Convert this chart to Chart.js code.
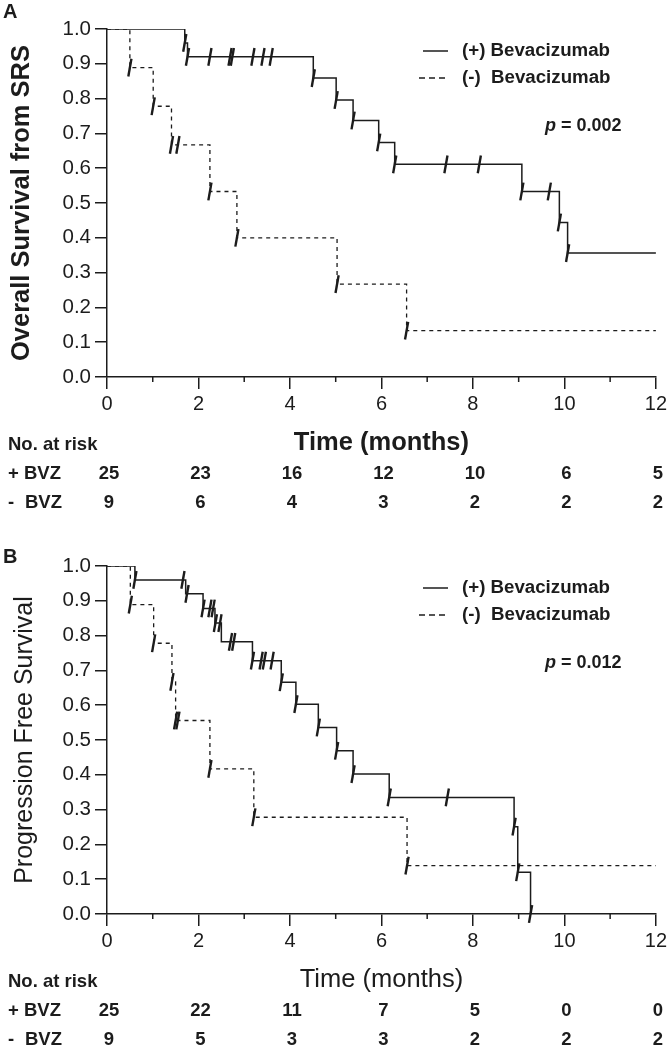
<!DOCTYPE html>
<html>
<head>
<meta charset="utf-8">
<title>Kaplan-Meier: Bevacizumab</title>
<script src="https://cdn.jsdelivr.net/npm/chart.js@4.4.0/dist/chart.umd.min.js"></script>
<style>
  html, body { margin: 0; padding: 0; background: #fff; }
  #wrap { position: relative; width: 670px; height: 1050px; }
  canvas { position: absolute; left: 0; }
</style>
</head>
<body>
<div id="wrap">
  <canvas id="chartOS" width="670" height="525" style="top:0"></canvas>
  <canvas id="chartPFS" width="670" height="525" style="top:525px"></canvas>
</div>
<script>
// --- Panel A: overall survival (step points: time in months, survival after the step)
const osPlusTimes  = [0, 1.70, 1.76, 4.51, 5.01, 5.38, 5.94, 6.29, 9.07, 9.89, 10.07, 12];
const osPlusSurv   = [1.0, 0.96, 0.92, 0.859, 0.796, 0.737, 0.674, 0.611, 0.533, 0.444, 0.356, 0.356];
const osPlusCensor = [1.70, 1.76, 2.25, 2.69, 2.74, 3.19, 3.41, 3.59, 4.51, 5.01, 5.38, 5.94, 6.29, 7.41, 8.14, 9.07, 9.67, 9.89, 10.07];

const osMinusTimes  = [0, 0.50, 1.01, 1.41, 2.25, 2.84, 5.03, 6.55, 12];
const osMinusSurv   = [1.0, 0.889, 0.778, 0.667, 0.533, 0.40, 0.267, 0.133, 0.133];
const osMinusCensor = [0.50, 1.01, 1.41, 1.55, 2.25, 2.84, 5.03, 6.55];

// --- Panel B: progression free survival
const pfsPlusTimes  = [0, 0.61, 1.72, 2.10, 2.36, 2.50, 3.18, 3.81, 4.13, 4.62, 5.02, 5.38, 6.17, 8.90, 8.98, 9.26];
const pfsPlusSurv   = [1.0, 0.96, 0.92, 0.878, 0.836, 0.782, 0.728, 0.666, 0.603, 0.536, 0.469, 0.402, 0.335, 0.251, 0.12, 0.0];
const pfsPlusCensor = [0.61, 1.66, 1.75, 2.10, 2.25, 2.32, 2.37, 2.47, 2.70, 2.77, 3.18, 3.37, 3.44, 3.61, 3.81, 4.13, 4.62, 5.02, 5.38, 6.17, 7.44, 8.90, 8.98, 9.26];

const pfsMinusTimes  = [0, 0.51, 1.02, 1.42, 1.50, 2.25, 3.21, 6.56, 12];
const pfsMinusSurv   = [1.0, 0.889, 0.778, 0.667, 0.556, 0.417, 0.278, 0.139, 0.139];
const pfsMinusCensor = [0.51, 1.02, 1.42, 1.50, 1.55, 2.25, 3.21, 6.56];

// --- Numbers at risk
const riskTimes     = [0, 2, 4, 6, 8, 10, 12];
const osRiskPlus    = [25, 23, 16, 12, 10, 6, 5];
const osRiskMinus   = [9, 6, 4, 3, 2, 2, 2];
const pfsRiskPlus   = [25, 22, 11, 7, 5, 0, 0];
const pfsRiskMinus  = [9, 5, 3, 3, 2, 2, 2];

const minorTicks = [1, 3, 5, 7, 9, 11];
const seriesNames = ['(+) Bevacizumab', '(-)  Bevacizumab'];

const FONT = "'Liberation Sans', Arial, Helvetica, sans-serif";
const INK = '#1c1c1c';

function survAt(times, surv, t) {
    let s = surv[0];
    for (let i = 0; i < times.length; i++) {
        if (times[i] <= t + 1e-9) s = surv[i];
    }
    return s;
}

function stepData(times, surv) {
    return times.map((t, i) => ({ x: t, y: surv[i] }));
}

function censorData(censor, times, surv) {
    return censor.map(t => ({ x: t, y: survAt(times, surv, t) }));
}

// decorations: minor ticks, titles, legend, p value, numbers at risk
const kmDecor = {
    id: 'kmDecor',
    afterDraw(chart, args, o) {
        const { ctx, chartArea: a, scales: { x } } = chart;
        ctx.save();
        ctx.fillStyle = INK;
        ctx.strokeStyle = INK;

        // minor ticks on the time axis
        ctx.lineWidth = 1.5;
        minorTicks.forEach(m => {
            const px = x.getPixelForValue(m);
            ctx.beginPath();
            ctx.moveTo(px, a.bottom);
            ctx.lineTo(px, a.bottom + 5);
            ctx.stroke();
        });

        // panel letter
        ctx.font = 'bold 20px ' + FONT;
        ctx.textAlign = 'left';
        ctx.textBaseline = 'middle';
        ctx.fillText(o.letter, 3, o.letterY);

        const weight = o.bold ? 'bold ' : '';

        // y title
        ctx.save();
        ctx.translate(o.yTitleX, (a.top + a.bottom) / 2);
        ctx.rotate(-Math.PI / 2);
        ctx.font = weight + o.yTitleSize + 'px ' + FONT;
        ctx.textAlign = 'center';
        ctx.fillText(o.yTitle, 0, 0);
        ctx.restore();

        // x title
        ctx.font = weight + o.xTitleSize + 'px ' + FONT;
        ctx.textAlign = 'center';
        ctx.fillText('Time (months)', (a.left + a.right) / 2, a.bottom + 66);

        // legend
        const rows = [a.top + 22, a.top + 49];
        ctx.font = 'bold 18.7px ' + FONT;
        ctx.textAlign = 'left';
        ctx.lineWidth = 1.5;
        rows.forEach((ry, i) => {
            ctx.beginPath();
            ctx.setLineDash(i === 0 ? [] : [6, 4]);
            ctx.moveTo(i === 0 ? 423 : 419, ry);
            ctx.lineTo(448, ry);
            ctx.stroke();
            ctx.setLineDash([]);
            ctx.fillText(seriesNames[i], 462, ry);
        });

        // p value
        const py = a.top + 97;
        ctx.font = 'italic bold 18px ' + FONT;
        ctx.fillText('p', 545, py);
        const pw = ctx.measureText('p').width;
        ctx.font = 'bold 18px ' + FONT;
        ctx.fillText(' = ' + o.pValue, 545 + pw, py);

        // numbers at risk
        ctx.font = 'bold 18.5px ' + FONT;
        ctx.textAlign = 'left';
        const r0 = a.bottom + 68, r1 = a.bottom + 97, r2 = a.bottom + 126;
        ctx.fillText('No. at risk', 8, r0);
        ctx.fillText('+ BVZ', 8, r1);
        ctx.fillText('-', 8, r2);
        ctx.fillText('BVZ', 25, r2);
        ctx.textAlign = 'center';
        riskTimes.forEach((t, i) => {
            const px = x.getPixelForValue(t) + 2;
            ctx.fillText(String(o.riskPlus[i]), px, r1);
            ctx.fillText(String(o.riskMinus[i]), px, r2);
        });

        ctx.restore();
    }
};

function makeChart(id, cfg) {
    const line = (data, dash) => ({
        data: data,
        stepped: 'before',
        borderColor: INK,
        borderWidth: dash ? 1.3 : 1.5,
        borderDash: dash ? [4, 4] : [],
        pointRadius: 0,
        fill: false
    });
    const ticks = (data) => ({
        data: data,
        showLine: false,
        pointStyle: 'line',
        rotation: -80,
        pointRadius: 9,
        pointHoverRadius: 9,
        pointBorderWidth: 2.4,
        pointBorderColor: INK,
        borderColor: INK,
        clip: false
    });

    return new Chart(document.getElementById(id), {
        type: 'line',
        data: {
            datasets: [
                line(stepData(cfg.plusTimes, cfg.plusSurv), false),
                line(stepData(cfg.minusTimes, cfg.minusSurv), true),
                ticks(censorData(cfg.plusCensor, cfg.plusTimes, cfg.plusSurv)),
                ticks(censorData(cfg.minusCensor, cfg.minusTimes, cfg.minusSurv))
            ]
        },
        options: {
            responsive: false,
            devicePixelRatio: 1,
            animation: false,
            layout: { padding: { top: cfg.top, right: 13, left: 0, bottom: 0 } },
            plugins: {
                legend: { display: false },
                tooltip: { enabled: false },
                kmDecor: cfg.decor
            },
            scales: {
                x: {
                    type: 'linear',
                    min: 0,
                    max: 12,
                    afterFit: s => { s.height = cfg.xHeight; },
                    grid: { drawOnChartArea: false, color: INK, lineWidth: 1.5, tickLength: 12 },
                    border: { color: INK, width: 1.5 },
                    ticks: { stepSize: 2, color: INK, padding: 3, maxRotation: 0, font: { family: FONT, size: 20 } }
                },
                y: {
                    min: 0,
                    max: 1,
                    afterFit: s => { s.width = 107; },
                    grid: { drawOnChartArea: false, color: INK, lineWidth: 1.5, tickLength: 12 },
                    border: { color: INK, width: 1.5 },
                    ticks: {
                        stepSize: 0.1,
                        color: INK,
                        padding: 4,
                        font: { family: FONT, size: 20.5 },
                        callback: v => Number(v).toFixed(1)
                    }
                }
            }
        },
        plugins: [kmDecor]
    });
}

makeChart('chartOS', {
    plusTimes: osPlusTimes, plusSurv: osPlusSurv, plusCensor: osPlusCensor,
    minusTimes: osMinusTimes, minusSurv: osMinusSurv, minusCensor: osMinusCensor,
    top: 29, xHeight: 148,
    decor: {
        letter: 'A', letterY: 12, bold: true,
        yTitle: 'Overall Survival from SRS', yTitleX: 22, yTitleSize: 25.5,
        xTitleSize: 25.5, pValue: '0.002',
        riskPlus: osRiskPlus, riskMinus: osRiskMinus
    }
});

makeChart('chartPFS', {
    plusTimes: pfsPlusTimes, plusSurv: pfsPlusSurv, plusCensor: pfsPlusCensor,
    minusTimes: pfsMinusTimes, minusSurv: pfsMinusSurv, minusCensor: pfsMinusCensor,
    top: 41, xHeight: 136,
    decor: {
        letter: 'B', letterY: 32, bold: false,
        yTitle: 'Progression Free Survival', yTitleX: 25, yTitleSize: 25,
        xTitleSize: 25.5, pValue: '0.012',
        riskPlus: pfsRiskPlus, riskMinus: pfsRiskMinus
    }
});
</script>
</body>
</html>
